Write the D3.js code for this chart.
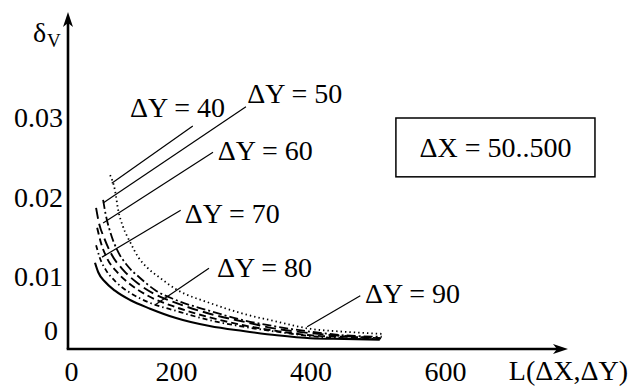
<!DOCTYPE html>
<html>
<head>
<meta charset="utf-8">
<script src="https://cdn.jsdelivr.net/npm/d3@7"></script>
<style>
  html, body { margin: 0; padding: 0; background: #fff; }
  svg { display: block; }
</style>
</head>
<body>
<svg id="chart" width="631" height="387"></svg>
<script>
// ---- data ----
const xTicks = [0, 200, 400, 600];
const yTicks = [0, 0.01, 0.02, 0.03];
const seriesNames = ["ΔY = 40", "ΔY = 50", "ΔY = 60", "ΔY = 70", "ΔY = 80", "ΔY = 90"];
const L40 = [78, 87, 93, 102, 115, 130, 148, 170, 200, 250, 300, 350, 400, 450, 508];
const D40 = [0.0228, 0.0209, 0.0184, 0.0163, 0.0144, 0.0125, 0.0111, 0.0099, 0.0083, 0.0064, 0.0049, 0.0038, 0.0028, 0.0024, 0.0021];
const L50 = [65, 70, 78, 91, 109, 133, 161, 200, 250, 300, 350, 400, 450, 506];
const D50 = [0.0197, 0.0178, 0.0157, 0.0134, 0.0115, 0.0099, 0.0082, 0.0068, 0.0053, 0.0040, 0.0031, 0.0024, 0.0019, 0.0017];
const L60 = [52, 57, 67, 81, 102, 128, 161, 200, 250, 300, 350, 400, 450, 505];
const D60 = [0.0187, 0.0169, 0.0149, 0.0128, 0.0109, 0.0092, 0.0076, 0.0064, 0.0049, 0.0038, 0.0028, 0.0022, 0.0018, 0.0015];
const L70 = [54, 61, 72, 91, 115, 148, 200, 250, 300, 350, 400, 450, 505];
const D70 = [0.0162, 0.0143, 0.0124, 0.0106, 0.0090, 0.0074, 0.0058, 0.0044, 0.0033, 0.0025, 0.0019, 0.0017, 0.0015];
const L80 = [52, 59, 70, 89, 115, 152, 200, 250, 300, 350, 400, 450, 504];
const D80 = [0.0140, 0.0124, 0.0109, 0.0093, 0.0078, 0.0064, 0.0053, 0.0040, 0.0031, 0.0024, 0.0018, 0.0015, 0.0014];
const L90 = [50, 56, 69, 87, 115, 152, 200, 250, 300, 350, 400, 450, 503];
const D90 = [0.0118, 0.0106, 0.0093, 0.0081, 0.0068, 0.0056, 0.0043, 0.0032, 0.0025, 0.0019, 0.0015, 0.0014, 0.0013];
// label anchors (data units): text position, pointer start, pointer end
const labelL = [115, 306, 262, 213, 261, 481];
const labelD = [0.0301, 0.0319, 0.0247, 0.0168, 0.0100, 0.0064];
const ptrFromL = [225, 304, 255, 207, 249, 474];
const ptrFromD = [0.0290, 0.0314, 0.0257, 0.0184, 0.0111, 0.0074];
const ptrToL = [81, 65, 65, 63, 161, 395];
const ptrToD = [0.0218, 0.0193, 0.0168, 0.0125, 0.0061, 0.0031];
const boxText = "ΔX = 50..500";
const xTitle = "L(ΔX,ΔY)";

// ---- scales ----
const x = d3.scaleLinear().domain([0, 200, 600]).range([68, 176, 445]);
const y = d3.scaleLinear().domain([0, 0.01, 0.03]).range([349, 277, 118]);

const svg = d3.select("#chart");
const FS = 28;
const SERIF = "'Liberation Serif', 'Times New Roman', Times, serif";

// curves
const seriesL = [L40, L50, L60, L70, L80, L90];
const seriesD = [D40, D50, D60, D70, D80, D90];
const dashes = ["1.4,3", "9,3,2,3", "11,5", "7,4", "5,3,1.5,3", null];
const widths = [1.8, 1.8, 1.9, 1.9, 1.8, 2.1];
const line = d3.line().x(d => x(d[0])).y(d => y(d[1])).curve(d3.curveMonotoneX);
seriesL.forEach((Ls, i) => {
  const pts = Ls.map((v, j) => [v, seriesD[i][j]]);
  svg.append("path").attr("d", line(pts))
    .attr("fill", "none").attr("stroke", "#000")
    .attr("stroke-width", widths[i])
    .attr("stroke-dasharray", dashes[i]);
});

function styleText(sel, size) {
  return sel.style("font-family", SERIF).style("font-size", size + "px").attr("fill", "#000");
}

// axes (labels only)
const gx = svg.append("g").attr("transform", `translate(0,${y(0)})`)
  .call(d3.axisBottom(x).tickValues(xTicks).tickSize(0).tickPadding(12).tickFormat(d3.format("d")));
gx.select(".domain").remove();
gx.attr("font-family", null).attr("font-size", null);
styleText(gx.selectAll("text"), FS).attr("dx", d => d === 0 ? 3 : 0);

const gy = svg.append("g").attr("transform", `translate(${x(0)},0)`)
  .call(d3.axisLeft(y).tickValues(yTicks).tickSize(0).tickPadding(5).tickFormat(d => d === 0 ? "0" : d3.format(".2f")(d)));
gy.select(".domain").remove();
gy.attr("font-family", null).attr("font-size", null);
styleText(gy.selectAll("text"), FS).attr("transform", d => d === 0 ? "translate(-5,-18)" : null);

// axis lines with arrows
svg.append("line").attr("x1", x(0)).attr("y1", y(0)).attr("x2", x(0)).attr("y2", 20)
  .attr("stroke", "#000").attr("stroke-width", 2.6);
svg.append("line").attr("x1", x(0) - 1.3).attr("y1", y(0)).attr("x2", 560).attr("y2", y(0))
  .attr("stroke", "#000").attr("stroke-width", 2.6);
svg.append("path").attr("d", `M${x(0)},12 L${x(0) + 5},27 L${x(0)},23 L${x(0) - 5},27 Z`).attr("fill", "#000");
svg.append("path").attr("d", `M568,${y(0)} L553,${y(0) - 5} L557,${y(0)} L553,${y(0) + 5} Z`).attr("fill", "#000");

function txt(xp, yp, s, size, anchor) {
  return styleText(svg.append("text").attr("x", xp).attr("y", yp), size)
    .attr("text-anchor", anchor || "start").text(s);
}

// axis titles
txt(33, 42, "δ", 28);
txt(47, 47, "V", 19);
txt(628, 380, xTitle, FS, "end");

// series labels and pointers
seriesNames.forEach((name, i) => {
  svg.append("line")
    .attr("x1", x(ptrFromL[i])).attr("y1", y(ptrFromD[i]))
    .attr("x2", x(ptrToL[i])).attr("y2", y(ptrToD[i]))
    .attr("stroke", "#000").attr("stroke-width", 1.2);
  txt(x(labelL[i]), y(labelD[i]), name, FS);
});

// box
const bx0 = x(527), bx1 = x(823), by0 = y(0.03), by1 = y(0.0226);
svg.append("rect").attr("x", bx0).attr("y", by0).attr("width", bx1 - bx0).attr("height", by1 - by0)
  .attr("fill", "none").attr("stroke", "#000").attr("stroke-width", 1.5);
txt((bx0 + bx1) / 2, y(0.0251), boxText, FS, "middle");
</script>
</body>
</html>
